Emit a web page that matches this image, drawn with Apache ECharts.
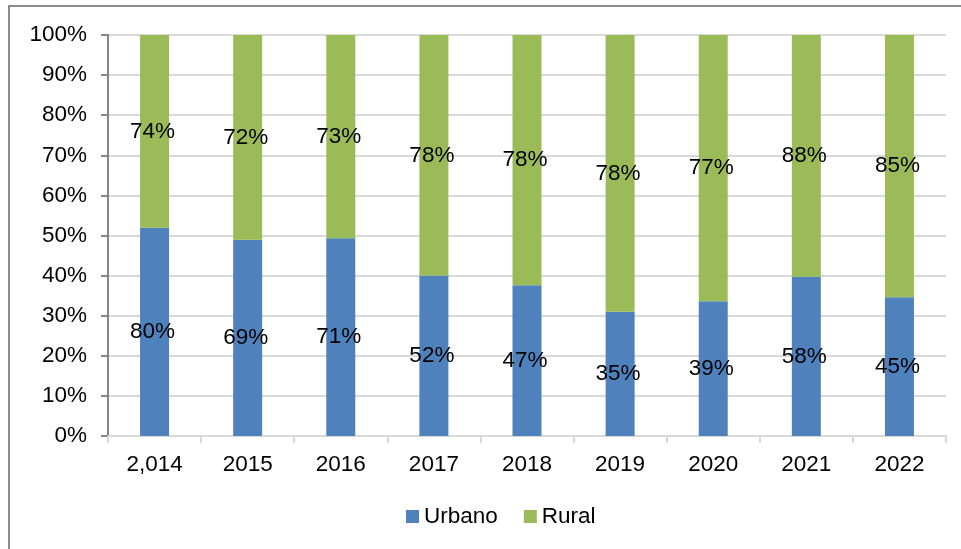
<!DOCTYPE html>
<html lang="es">
<head>
    <meta charset="UTF-8">
    <title>Urbano / Rural</title>
    <style>
        html, body { margin: 0; padding: 0; background: #fff; }
    </style>
</head>
<body>

<div id="main" style="width: 961px; height: 549px;"></div>

<script src="https://cdn.jsdelivr.net/npm/echarts@6/dist/echarts.min.js"></script>
<script>
    // datos (las etiquetas muestran el valor, la barra es la proporción)
    var years = ['2,014', '2015', '2016', '2017', '2018', '2019', '2020', '2021', '2022'];
    var urbano = [80, 69, 71, 52, 47, 35, 39, 58, 45];
    var rural = [74, 72, 73, 78, 78, 78, 77, 88, 85];
    var yTicks = [0, 10, 20, 30, 40, 50, 60, 70, 80, 90, 100];

    // columnas apiladas al 100%
    function share(a, b) {
        return a.map(function (v, i) { return v / (v + b[i]) * 100; });
    }
    var urbanoPct = share(urbano, rural);
    var ruralPct = share(rural, urbano);

    var font = 'Liberation Sans, Arial, sans-serif';
    var fs = 22.5;
    var myChart = echarts.init(document.getElementById('main'));

    function series(name, pct, raw, color) {
        return {
            name: name,
            type: 'bar',
            stack: 'total',
            barWidth: 29,
            data: pct,
            itemStyle: { color: color },
            label: {
                show: true,
                position: 'inside',
                offset: [-2, 0],
                color: '#000',
                fontFamily: font,
                fontSize: fs,
                formatter: function (p) { return raw[p.dataIndex] + '%'; }
            }
        };
    }

    var option = {
        animation: false,
        textStyle: { fontFamily: font },
        graphic: [{
            type: 'rect',
            shape: { x: 9, y: 6, width: 1000, height: 600 },
            style: { fill: 'none', stroke: '#8c8c8c', lineWidth: 2 },
            silent: true
        }],
        grid: { left: 108, right: 15, top: 35, bottom: 113 },
        legend: {
            bottom: 16,
            left: 401,
            itemWidth: 13,
            itemHeight: 13,
            itemGap: 26,
            itemTextGap: 5,
            icon: 'rect',
            textStyle: { fontSize: fs, color: '#000', fontFamily: font },
            data: ['Urbano', 'Rural']
        },
        xAxis: {
            type: 'category',
            data: years,
            axisLine: { lineStyle: { color: '#d9d9d9', width: 2 } },
            axisTick: { show: true, length: 7, lineStyle: { color: '#d9d9d9', width: 2 } },
            axisLabel: { color: '#000', fontSize: fs, margin: 17, fontFamily: font }
        },
        yAxis: {
            type: 'value',
            min: yTicks[0],
            max: yTicks[yTicks.length - 1],
            interval: 10,
            axisLine: { show: true, lineStyle: { color: '#868686', width: 2 } },
            axisTick: { show: true, length: 7, lineStyle: { color: '#868686', width: 2 } },
            splitLine: { lineStyle: { color: '#d9d9d9', width: 2 } },
            axisLabel: {
                color: '#000', fontSize: fs, margin: 21, fontFamily: font,
                formatter: function (v) { return v + '%'; }
            }
        },
        series: [
            series('Urbano', urbanoPct, urbano, '#4f81bd'),
            series('Rural', ruralPct, rural, '#9bbb59')
        ]
    };
    myChart.setOption(option);
</script>
</body>
</html>
